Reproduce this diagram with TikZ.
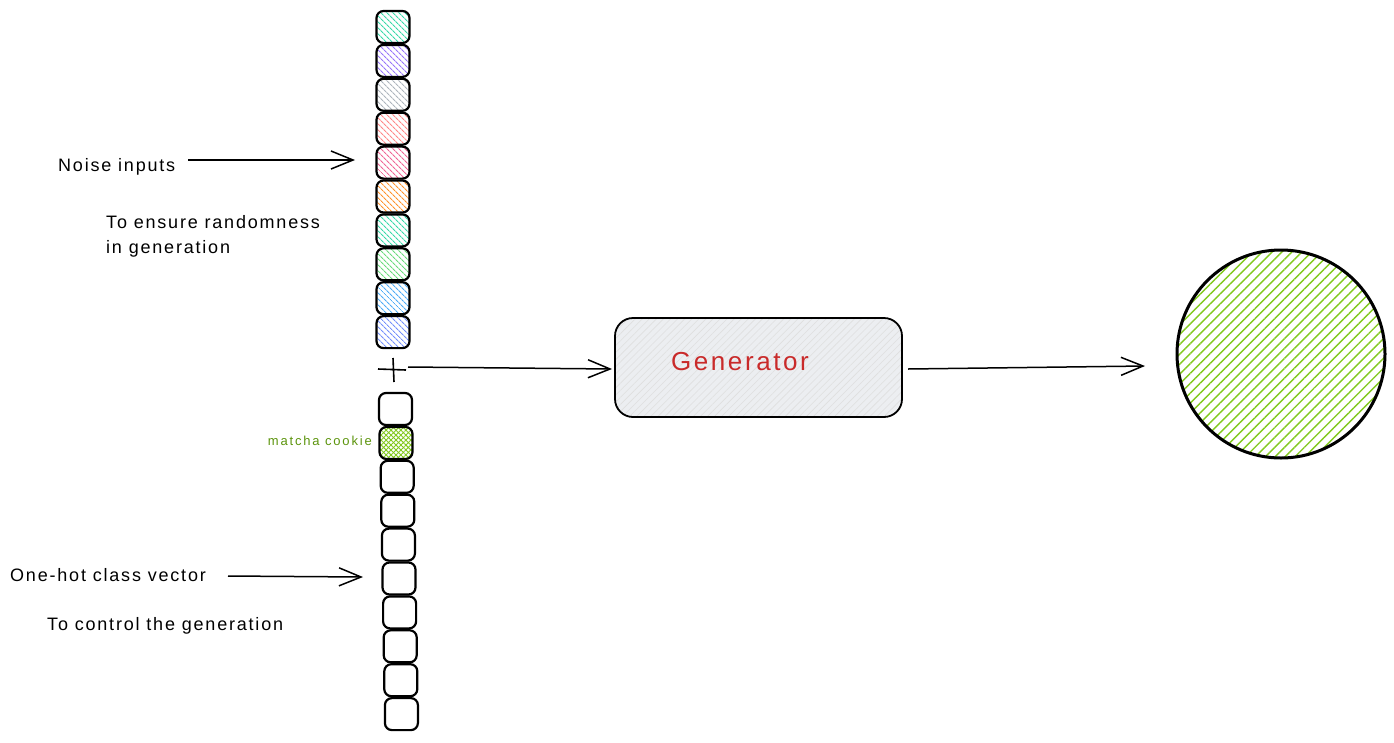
\documentclass[tikz,border=0pt]{standalone}
\usepackage{fontspec}
\setmainfont[LetterSpace=10]{Liberation Sans}
\usetikzlibrary{arrows.meta,patterns.meta}
\definecolor{cteal}{HTML}{38D9A9}
\definecolor{cviolet}{HTML}{9775FA}
\definecolor{cgray}{HTML}{ADB5BD}
\definecolor{cred}{HTML}{FF8787}
\definecolor{cpink}{HTML}{F06595}
\definecolor{corange}{HTML}{FF922B}
\definecolor{cgreen}{HTML}{69DB7C}
\definecolor{cblue}{HTML}{4DABF7}
\definecolor{cindigo}{HTML}{748FFC}
\definecolor{lime}{HTML}{82C91E}
\definecolor{darklime}{HTML}{5C940D}
\definecolor{genred}{HTML}{C92A2A}
\definecolor{genfill}{HTML}{ECEEF1}
\tikzset{
  cell/.style={draw=black, line width=2.2pt, rounded corners=7pt, minimum width=33pt, minimum height=32pt, inner sep=0pt, preaction={fill=white}},
  hcell/.style={cell, preaction={pattern={Lines[angle=-45,distance=4pt,line width=1.2pt]}, pattern color=#1}},
  lbl/.style={font=\fontsize{18}{22}\selectfont, anchor=west, inner sep=0pt, align=left},
  sketcharrow/.style={line width=1.5pt, -{Straight Barb[length=22pt,width=18pt,line width=1.5pt]}},
}
\begin{document}
\begin{tikzpicture}[x=1pt,y=-1pt]
\useasboundingbox (0,0) rectangle (1394,742);
% noise cells
\foreach \c [count=\i from 0] in {cteal,cviolet,cgray,cred,cpink,corange,cteal,cgreen,cblue,cindigo}{
  \node[hcell=\c] (n\i) at (393,{27+33.9*\i}) {};
}
% one-hot cells
\node[cell] (h0) at (395.5,409) {};
\node[cell, preaction={pattern={Lines[angle=45,distance=3.5pt,line width=0.9pt]}, pattern color=lime}, preaction={pattern={Lines[angle=-45,distance=3.5pt,line width=0.9pt]}, pattern color=lime}] (h1) at (396,443) {};
\foreach \i in {2,...,9}{
  \node[cell] (h\i) at ({396+0.6*\i},{409+33.9*\i}) {};
}
% labels
\node[lbl] (noise) at (58,167) {Noise inputs};
\node[lbl] (rand) at (106,236) {To ensure randomness\\[3pt]in generation};
\node[lbl] (onehot) at (10,575) {One-hot class vector};
\node[lbl] (ctrl) at (47,626) {To control the generation};
\node[font=\fontsize{13}{15}\selectfont\addfontfeatures{LetterSpace=14}, text=darklime, anchor=east, inner sep=0pt] (matcha) at (372,441) {matcha cookie};
% plus
\coordinate (plus) at (393,370);
\draw[line width=1.6pt] (378,369) -- (406,370) (393,358) -- (394,382);
% generator
\node[draw=black, line width=1.8pt, rounded corners=18pt, minimum width=287pt, minimum height=99pt, preaction={fill=genfill}, preaction={pattern={Lines[angle=45,distance=5pt,line width=0.6pt]}, pattern color=gray!25}] (gen) at (758.5,367.5) {};
\node[font=\fontsize{26}{30}\selectfont, text=genred, inner sep=0pt] (gentext) at (740,362) {Generator};
% output circle
\node[circle, draw=black, line width=3pt, minimum size=208pt, inner sep=0pt, preaction={fill=white}, preaction={pattern={Lines[angle=45,distance=7pt,line width=1.4pt]}, pattern color=lime}] (out) at (1281,354) {};
% arrows
\coordinate (na) at (355,160);
\coordinate (oa) at (363,577);
\coordinate (pa) at (408,367);
\coordinate (ga) at (612,369);
\coordinate (gb) at (908,369);
\coordinate (ca) at (1145,366);
\draw[sketcharrow] (188,160) -- (na);
\draw[sketcharrow] (228,576) -- (oa);
\draw[sketcharrow] (pa) -- (ga);
\draw[sketcharrow] (gb) -- (ca);
\end{tikzpicture}
\end{document}
